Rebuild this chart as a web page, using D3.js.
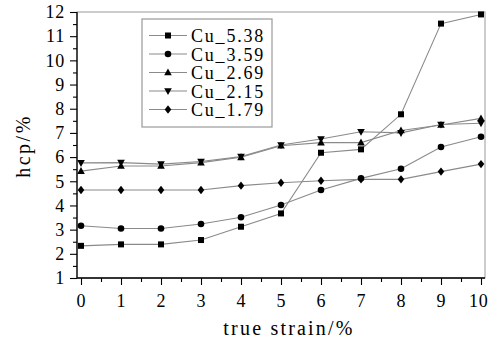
<!DOCTYPE html>
<html><head><meta charset="utf-8">
<script src="https://cdn.jsdelivr.net/npm/d3@7"></script>
<style>body{margin:0;background:#fff}svg{display:block}
svg text{font-family:"Liberation Serif","DejaVu Serif","Times New Roman",Times,serif;}</style>
</head><body><svg id="c" width="488" height="346"></svg>
<script>
const strain = [0,1,2,3,4,5,6,7,8,9,10];
const seriesNames = ["Cu_5.38","Cu_3.59","Cu_2.69","Cu_2.15","Cu_1.79"];
const cu538 = [2.33,2.39,2.39,2.57,3.12,3.67,6.18,6.32,7.77,11.52,11.9];
const cu359 = [3.16,3.05,3.05,3.23,3.51,4.02,4.64,5.12,5.52,6.42,6.84];
const cu269 = [5.42,5.63,5.63,5.77,5.99,6.47,6.6,6.6,7.1,7.33,7.6];
const cu215 = [5.76,5.77,5.71,5.82,6.02,6.5,6.75,7.05,7.0,7.35,7.4];
const cu179 = [4.64,4.64,4.64,4.64,4.82,4.94,5.02,5.08,5.08,5.4,5.71];
const xTicks = [0,1,2,3,4,5,6,7,8,9,10];
const yTicks = [1,2,3,4,5,6,7,8,9,10,11,12];
const allSeries = [cu538,cu359,cu269,cu215,cu179];
const markers = ["square","circle","up","down","diamond"];

const svg = d3.select("#c");
const L=77,R=485,T=12,B=278;
const x = d3.scaleLinear().domain([-0.1,10.1]).range([L,R]);
const y = d3.scaleLinear().domain([1,12]).range([B,T]);

svg.append("rect").attr("x",L).attr("y",T).attr("width",R-L).attr("height",B-T)
  .attr("fill","none").attr("stroke","#999").attr("stroke-width",1);

function markerPath(g,type,cx,cy){
  if(type==="square") g.append("rect").attr("x",cx-3).attr("y",cy-3).attr("width",6).attr("height",6).attr("fill","#000");
  else if(type==="circle") g.append("circle").attr("cx",cx).attr("cy",cy).attr("r",3.3).attr("fill","#000");
  else if(type==="up") g.append("path").attr("d",`M${cx},${cy-4}L${cx+3.8},${cy+2.8}L${cx-3.8},${cy+2.8}Z`).attr("fill","#000");
  else if(type==="down") g.append("path").attr("d",`M${cx},${cy+4}L${cx+3.8},${cy-2.8}L${cx-3.8},${cy-2.8}Z`).attr("fill","#000");
  else g.append("path").attr("d",`M${cx},${cy-4.2}L${cx+3.3},${cy}L${cx},${cy+4.2}L${cx-3.3},${cy}Z`).attr("fill","#000");
}

const line = d3.line().x((d,i)=>x(strain[i])).y(d=>y(d));
allSeries.forEach((s,k)=>{
  svg.append("path").attr("d",line(s)).attr("fill","none").attr("stroke","#8a8a8a").attr("stroke-width",1.1);
});
allSeries.forEach((s,k)=>{
  const g=svg.append("g");
  s.forEach((v,i)=>markerPath(g,markers[k],x(strain[i]),y(v)));
});

const xa = svg.append("g").attr("transform",`translate(0,${B})`)
  .call(d3.axisBottom(x).tickValues(xTicks).tickSize(7).tickPadding(9).tickFormat(d3.format("d")));
const xm = svg.append("g").attr("transform",`translate(0,${B})`)
  .call(d3.axisBottom(x).tickValues(d3.range(0.5,10,1)).tickSize(4).tickFormat(""));
const ya = svg.append("g").attr("transform",`translate(${L},0)`)
  .call(d3.axisLeft(y).tickValues(yTicks).tickSize(7).tickPadding(5).tickFormat(d3.format("d")));
const ym = svg.append("g").attr("transform",`translate(${L},0)`)
  .call(d3.axisLeft(y).tickValues(d3.range(1.5,12,1)).tickSize(4).tickFormat(""));
[xa,xm,ya,ym].forEach(a=>{
  a.attr("font-family",null);
  a.select(".domain").attr("stroke","#000").attr("stroke-width",1.3);
  a.selectAll(".tick line").attr("stroke","#000").attr("stroke-width",1.1);
  a.selectAll("text").attr("font-size",18).attr("letter-spacing",0.8).attr("fill","#000");
});
xa.select(".domain").attr("d",`M${L},0H${R}`);
xm.select(".domain").remove();
ya.select(".domain").attr("d",`M0,${B}V${T}`);
ym.select(".domain").remove();
xa.selectAll(".tick text").filter(d=>d===10).attr("text-anchor","end").attr("x",7);

svg.append("text").attr("x",289).attr("y",335).attr("text-anchor","middle")
  .attr("font-size",20).attr("letter-spacing",2.2).text("true strain/%");
svg.append("text").attr("transform","translate(30,146) rotate(-90)").attr("text-anchor","middle")
  .attr("font-size",20).attr("letter-spacing",2.5).text("hcp/%");

const lg = svg.append("g");
lg.append("rect").attr("x",142).attr("y",19).attr("width",130).attr("height",108)
  .attr("fill","#fff").attr("stroke","#999").attr("stroke-width",1.2);
seriesNames.forEach((n,k)=>{
  const yy = 35.5 + k*18.5;
  lg.append("line").attr("x1",149).attr("x2",187).attr("y1",yy).attr("y2",yy).attr("stroke","#8a8a8a").attr("stroke-width",1.1);
  markerPath(lg,markers[k],168,yy);
  lg.append("text").attr("x",191).attr("y",yy+6.5).attr("font-size",18)
    .attr("letter-spacing",1.8).text(n);
});
</script></body></html>
